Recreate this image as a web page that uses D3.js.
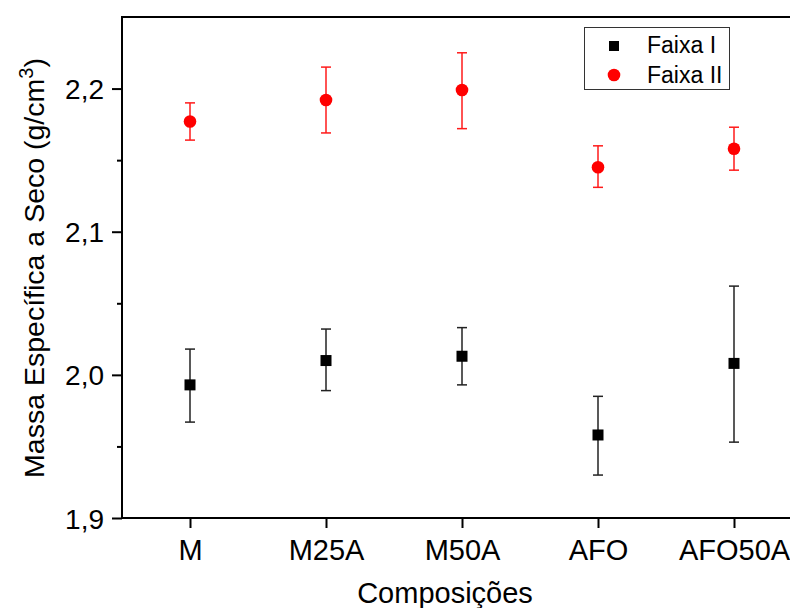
<!DOCTYPE html>
<html>
<head>
<meta charset="utf-8">
<script src="https://cdn.jsdelivr.net/npm/d3@7"></script>
<style>
  html, body { margin: 0; padding: 0; background: #fff; }
  svg { display: block; }
  text { font-family: "Liberation Sans", Arial, sans-serif; fill: #000; }
</style>
</head>
<body>
<svg id="chart" width="790" height="608"></svg>
<script>
// Dry bulk density per composition, two aggregate gradations
const categories = ["M", "M25A", "M50A", "AFO", "AFO50A"];

const faixa1Mean = [1.993, 2.010, 2.013, 1.958, 2.008];
const faixa1Low  = [1.967, 1.989, 1.993, 1.930, 1.953];
const faixa1High = [2.018, 2.032, 2.033, 1.985, 2.062];

const faixa2Mean = [2.177, 2.192, 2.199, 2.145, 2.158];
const faixa2Low  = [2.164, 2.169, 2.172, 2.131, 2.143];
const faixa2High = [2.190, 2.215, 2.225, 2.160, 2.173];

const yMajorTicks = [1.9, 2.0, 2.1, 2.2];
const yMinorTicks = [1.95, 2.05, 2.15];

const seriesNames = ["Faixa I", "Faixa II"];

const svg = d3.select("#chart");
const W = 790;
const plot = { left: 122, top: 17, bottom: 518, right: 790 };

const x = d3.scalePoint().domain(categories).range([190, 734]);
const y = d3.scaleLinear().domain([1.9, 2.25]).range([plot.bottom, plot.top]);

const fmt = v => d3.format(".1f")(v).replace(".", ",");
const FONT = "'Liberation Sans', Arial, sans-serif";

// Top frame line
svg.append("line")
  .attr("x1", plot.left).attr("x2", W + 5)
  .attr("y1", plot.top).attr("y2", plot.top)
  .attr("stroke", "#000").attr("stroke-width", 2);

// Y axis: major ticks with labels
const yAxis = svg.append("g")
  .attr("transform", `translate(${plot.left},0)`)
  .call(d3.axisLeft(y).tickValues(yMajorTicks).tickFormat(fmt).tickSize(10).tickPadding(8));
yAxis.attr("font-family", FONT);
yAxis.select(".domain").remove();
yAxis.selectAll(".tick line").attr("stroke", "#000").attr("stroke-width", 2);
yAxis.selectAll(".tick text")
  .attr("font-size", 28)
  .attr("dy", "0.36em");

// Y axis minor ticks
svg.append("g")
  .attr("transform", `translate(${plot.left},0)`)
  .call(d3.axisLeft(y).tickValues(yMinorTicks).tickFormat("").tickSize(5))
  .call(g => g.select(".domain").remove())
  .selectAll(".tick line").attr("stroke", "#000").attr("stroke-width", 2);

svg.append("line")
  .attr("x1", plot.left).attr("x2", plot.left)
  .attr("y1", plot.top - 1).attr("y2", plot.bottom + 1)
  .attr("stroke", "#000").attr("stroke-width", 2);

// X axis
const xAxis = svg.append("g")
  .attr("transform", `translate(0,${plot.bottom})`)
  .call(d3.axisBottom(x).tickSize(10).tickPadding(11));
xAxis.attr("font-family", FONT);
xAxis.select(".domain").remove();
xAxis.selectAll(".tick line").attr("stroke", "#000").attr("stroke-width", 2);
xAxis.selectAll(".tick text")
  .attr("font-size", 29);

svg.append("line")
  .attr("x1", plot.left - 1).attr("x2", W + 5)
  .attr("y1", plot.bottom).attr("y2", plot.bottom)
  .attr("stroke", "#000").attr("stroke-width", 2);

// Axis titles
svg.append("text")
  .attr("x", 445).attr("y", 603)
  .attr("text-anchor", "middle")
  .attr("font-size", 29)
  .text("Composições");

const yTitle = svg.append("text")
  .attr("transform", "translate(44,268) rotate(-90)")
  .attr("text-anchor", "middle")
  .attr("font-size", 28.5);
yTitle.append("tspan").text("Massa Específica a Seco (g/cm");
yTitle.append("tspan").attr("font-size", 20).attr("dy", -11).text("3");
yTitle.append("tspan").attr("dy", 11).text(")");

// Error bars + markers
function drawSeries(mean, low, high, color, errColor, shape) {
  const g = svg.append("g");
  const capHalf = 5;
  categories.forEach((c, i) => {
    const cx = x(c);
    g.append("line")
      .attr("x1", cx).attr("x2", cx)
      .attr("y1", y(low[i])).attr("y2", y(high[i]))
      .attr("stroke", errColor).attr("stroke-width", 1.5);
    [low[i], high[i]].forEach(v => {
      g.append("line")
        .attr("x1", cx - capHalf).attr("x2", cx + capHalf)
        .attr("y1", y(v)).attr("y2", y(v))
        .attr("stroke", errColor).attr("stroke-width", 1.5);
    });
    if (shape === "square") {
      g.append("rect")
        .attr("x", cx - 5.5).attr("y", y(mean[i]) - 5.5)
        .attr("width", 11).attr("height", 11)
        .attr("fill", color);
    } else {
      g.append("circle")
        .attr("cx", cx).attr("cy", y(mean[i])).attr("r", 6.3)
        .attr("fill", color);
    }
  });
}
drawSeries(faixa1Mean, faixa1Low, faixa1High, "#000", "#222", "square");
drawSeries(faixa2Mean, faixa2Low, faixa2High, "#ff0000", "#ff1a1a", "circle");

// Legend
const legend = svg.append("g");
legend.append("rect")
  .attr("x", 584.5).attr("y", 27.5).attr("width", 145).attr("height", 62)
  .attr("fill", "#fff").attr("stroke", "#333").attr("stroke-width", 1);
legend.append("rect")
  .attr("x", 609).attr("y", 41).attr("width", 10).attr("height", 10)
  .attr("fill", "#000");
legend.append("circle")
  .attr("cx", 614).attr("cy", 75).attr("r", 6.3)
  .attr("fill", "#ff0000");
legend.append("text").attr("x", 647).attr("y", 52.5).attr("font-size", 23).text(seriesNames[0]);
legend.append("text").attr("x", 647).attr("y", 82.5).attr("font-size", 23).text(seriesNames[1]);
</script>
</body>
</html>
